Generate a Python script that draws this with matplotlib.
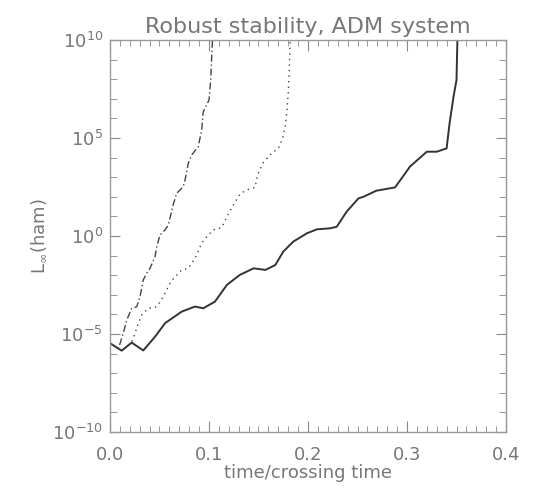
import numpy as np
import matplotlib
matplotlib.use('Agg')
import matplotlib.pyplot as plt
from matplotlib.ticker import FixedLocator, FixedFormatter, NullFormatter

# values: time (crossing times) and log10 of L_inf(ham)
t_solid = [0.0, 0.0118, 0.0219, 0.0336, 0.0455, 0.0556, 0.0724, 0.0859, 0.0942,
           0.106, 0.118, 0.131, 0.145, 0.157, 0.167, 0.175, 0.185, 0.199, 0.209,
           0.222, 0.229, 0.239, 0.251, 0.256, 0.269, 0.288, 0.303, 0.320, 0.330,
           0.340, 0.343, 0.347, 0.350, 0.351]
log_solid = [-5.47, -5.85, -5.44, -5.84, -5.14, -4.45, -3.86, -3.60, -3.69,
             -3.35, -2.50, -1.99, -1.65, -1.73, -1.48, -0.80, -0.29, 0.14, 0.34,
             0.39, 0.47, 1.24, 1.92, 2.00, 2.31, 2.48, 3.54, 4.30, 4.30,
             4.47, 5.75, 7.11, 7.96, 10.2]

t_dashdot = [0.0, 0.0085, 0.0134, 0.0169, 0.0219, 0.027, 0.0303, 0.0336, 0.0371,
             0.0404, 0.0455, 0.0472, 0.0505, 0.0556, 0.0589, 0.064, 0.0674, 0.074,
             0.0758, 0.0791, 0.0825, 0.0892, 0.0926, 0.0942, 0.096, 0.100,
             0.1017, 0.1027, 0.1037]
log_dashdot = [-5.47, -5.75, -4.96, -4.29, -3.69, -3.61, -3.10, -2.24, -1.90,
               -1.65, -1.06, -0.55, 0.05, 0.31, 0.56, 1.63, 2.18, 2.52,
               2.86, 3.71, 4.13, 4.56, 5.41, 6.34, 6.52, 6.94,
               7.96, 9.15, 10.2]

t_dotted = [0.0, 0.0118, 0.0219, 0.0253, 0.0286, 0.032, 0.0387, 0.0472, 0.0538,
            0.0606, 0.0657, 0.0724, 0.0791, 0.0859, 0.0926, 0.0977, 0.1043,
            0.1128, 0.1195, 0.1245, 0.1313, 0.138, 0.1465, 0.149, 0.1549,
            0.1633, 0.170, 0.1742, 0.1768, 0.1785, 0.180, 0.1811, 0.1818, 0.182]
log_dotted = [-5.47, -5.85, -5.44, -4.96, -4.45, -4.03, -3.69, -3.61, -3.10,
              -2.41, -2.08, -1.73, -1.65, -1.14, -0.37, -0.04, 0.31,
              0.43, 1.12, 1.58, 2.14, 2.35, 2.47, 3.11, 3.75,
              4.22, 4.47, 4.95, 5.51, 6.26, 7.28, 8.47, 9.66, 10.2]

x_ticks = [0.0, 0.1, 0.2, 0.3, 0.4]
x_labels = ['0.0', '0.1', '0.2', '0.3', '0.4']
y_ticks = [1e-10, 1e-5, 1e0, 1e5, 1e10]
y_labels = ['10$^{-10}$', '10$^{-5}$', '10$^{0}$', '10$^{5}$', '10$^{10}$']

grey = '#777777'
plt.rcParams['font.family'] = ['DejaVu Sans']
plt.rcParams['mathtext.default'] = 'regular'

fig = plt.figure(figsize=(5.35, 4.95), dpi=100)
ax = fig.add_axes([0.2056, 0.1273, 0.7402, 0.7919])

ax.plot(t_solid, 10 ** np.array(log_solid), color='#333333', lw=1.4)
ax.plot(t_dashdot, 10 ** np.array(log_dashdot), color='#444444', lw=1.0,
        linestyle=(0, (5, 2, 1, 2)))
ax.plot(t_dotted, 10 ** np.array(log_dotted), color='#444444', lw=1.0,
        linestyle=(0, (1, 3)))

ax.set_yscale('log')
ax.set_xlim(0, 0.4)
ax.set_ylim(1e-10, 1e10)

ax.xaxis.set_major_locator(FixedLocator(x_ticks))
ax.xaxis.set_minor_locator(FixedLocator(np.arange(0, 0.4001, 0.01)))
ax.xaxis.set_major_formatter(FixedFormatter(x_labels))
ax.xaxis.set_minor_formatter(NullFormatter())
ax.yaxis.set_major_locator(FixedLocator(y_ticks))
ax.yaxis.set_minor_locator(FixedLocator([10.0 ** k for k in range(-10, 11)]))
ax.yaxis.set_major_formatter(FixedFormatter(y_labels))
ax.yaxis.set_minor_formatter(NullFormatter())

ax.tick_params(which='both', direction='in', top=True, right=True,
               color='#888888', labelcolor=grey, labelsize=13)
ax.tick_params(axis='x', which='major', length=8, pad=10)
ax.tick_params(axis='x', which='minor', length=4)
ax.tick_params(axis='y', which='major', length=7, pad=5)
ax.tick_params(axis='y', which='minor', length=5)

for s in ax.spines.values():
    s.set_color('#999999')
    s.set_linewidth(1.0)

ax.set_title('Robust stability, ADM system', color=grey, fontsize=16, pad=5)
ax.set_xlabel('time/crossing time', color=grey, fontsize=13, labelpad=0)
ax.set_ylabel(r'L$_\infty$(ham)', color=grey, fontsize=13, labelpad=3)

fig.savefig('out.png', dpi=100)
